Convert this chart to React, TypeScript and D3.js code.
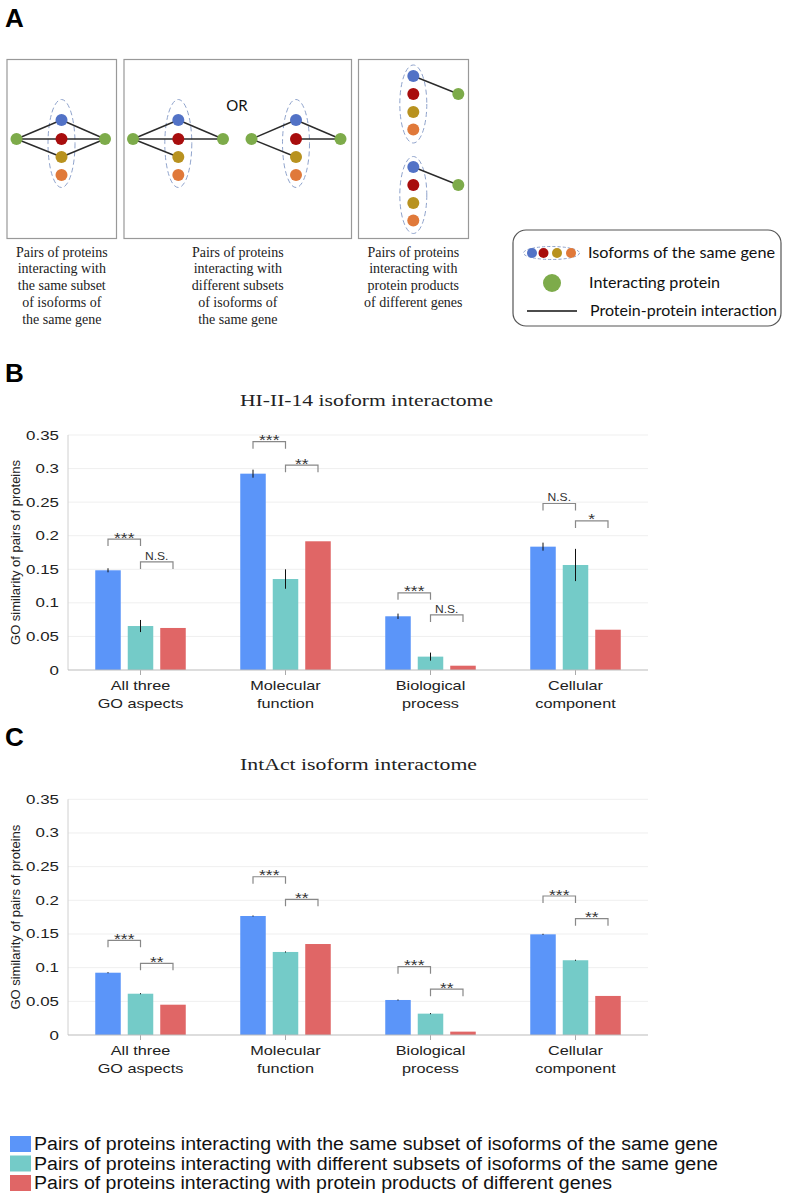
import React from "react";
import * as d3 from "d3";

// ---------- DATA ----------
const groupLabels: string[][] = [
  ["All three", "GO aspects"],
  ["Molecular", "function"],
  ["Biological", "process"],
  ["Cellular", "component"],
];
const seriesNames = [
  "Pairs of proteins interacting with the same subset of isoforms of the same gene",
  "Pairs of proteins interacting with different subsets of isoforms of the same gene",
  "Pairs of proteins interacting with protein products of different genes",
];
const seriesColors = ["#5b95f9", "#74cbc8", "#e06666"];
const yTicks = [0, 0.05, 0.1, 0.15, 0.2, 0.25, 0.3, 0.35];
const yTickLabels = ["0", "0.05", "0.1", "0.15", "0.2", "0.25", "0.3", "0.35"];

// Panel B: HI-II-14
const bSame = [0.1485, 0.2924, 0.08, 0.1837];
const bDiff = [0.0655, 0.1355, 0.0199, 0.1564];
const bGenes = [0.0626, 0.1917, 0.0064, 0.06];
const bSameErr = [0.003, 0.006, 0.004, 0.006];
const bDiffErr = [0.009, 0.0145, 0.006, 0.024];
const bGenesErr = [0, 0, 0, 0];
const bBracket1 = [0.195, 0.34, 0.115, 0.248];
const bBracket2 = [0.161, 0.305, 0.082, 0.222];
const bSig1 = ["***", "***", "***", "N.S."];
const bSig2 = ["N.S.", "**", "N.S.", "*"];

// Panel C: IntAct
const cSame = [0.0925, 0.1767, 0.052, 0.1495];
const cDiff = [0.0613, 0.1233, 0.0317, 0.111];
const cGenes = [0.045, 0.1351, 0.005, 0.058];
const cSameErr = [0.0008, 0.0008, 0.0008, 0.0008];
const cDiffErr = [0.0008, 0.0008, 0.0008, 0.0008];
const cGenesErr = [0, 0, 0, 0];
const cBracket1 = [0.1406, 0.235, 0.1015, 0.2064];
const cBracket2 = [0.1065, 0.2015, 0.068, 0.1727];
const cSig1 = ["***", "***", "***", "***"];
const cSig2 = ["**", "**", "**", "**"];

const captions: string[][] = [
  ["Pairs of proteins", "interacting with", "the same subset", "of isoforms of", "the same gene"],
  ["Pairs of proteins", "interacting with", "different subsets", "of isoforms of", "the same gene"],
  ["Pairs of proteins", "interacting with", "protein products", "of different genes"],
];
const legendA = ["Isoforms of the same gene", "Interacting protein", "Protein-protein interaction"];

const isoColors = ["#5272c6", "#a80d0d", "#b8921f", "#e0793a"];
const green = "#7dab4a";

const SANS = "'Liberation Sans', Arial, Helvetica, sans-serif";
const SERIF = "'Liberation Serif', 'Times New Roman', serif";
const CAL = "Lato, 'Open Sans', sans-serif";

// ---------- helpers ----------
function SText(props: { x: number; y: number; sx?: number; size: number; anchor?: string; fill?: string; family?: string; children: any }) {
  const { x, y, sx = 1, size, anchor = "middle", fill = "#222", family = SANS } = props;
  return (
    <text transform={`translate(${x},${y}) scale(${sx},1)`} fontSize={size} textAnchor={anchor} fill={fill} fontFamily={family}>
      {props.children}
    </text>
  );
}

type ChartProps = {
  title: string;
  titleY: number;
  titleW: number;
  top: number;
  bottom: number;
  values: number[][];
  errs: number[][];
  br1: number[];
  br2: number[];
  sig1: string[];
  sig2: string[];
};

function BarChart(p: ChartProps) {
  const left = 68, right = 648;
  const y = d3.scaleLinear().domain([0, 0.35]).range([p.bottom, p.top]);
  const x0 = d3.scaleBand<number>().domain(d3.range(groupLabels.length)).range([left, right]).padding(0);
  const x1 = d3.scaleBand<number>().domain([0, 1, 2]).range([-45.25, 45.25]).paddingInner(0.215).paddingOuter(0);
  const gc = (g: number) => (x0(g) as number) + x0.bandwidth() / 2;
  const bc = (g: number, s: number) => gc(g) + (x1(s) as number) + x1.bandwidth() / 2;
  const leg = 7;
  const sigLabel = (txt: string, xm: number, yb: number, key: string) =>
    txt === "N.S." ? (
      <SText key={key} x={xm} y={yb - 2} size={10.5} sx={1.15} fill="#333">{txt}</SText>
    ) : (
      <SText key={key} x={xm} y={yb + 3.5} size={14} sx={1.25} fill="#333">{txt}</SText>
    );
  return (
    <g>
      <text x={240} y={p.titleY} fontFamily={SERIF} fontSize={16.5} fill="#222" textLength={p.titleW} lengthAdjust="spacingAndGlyphs">
        {p.title}
      </text>
      {yTicks.map((t, i) => (
        <g key={"g" + i}>
          {i > 0 && <line x1={left} x2={right} y1={y(t)} y2={y(t)} stroke="#efefef" strokeWidth={1} />}
          <SText x={59} y={y(t) + 4.5} size={13} sx={1.3} anchor="end" fill="#222">{yTickLabels[i]}</SText>
        </g>
      ))}
      <line x1={left} x2={left} y1={p.top} y2={p.bottom} stroke="#d0d0d0" strokeWidth={1} />
      <text transform={`translate(20,${(p.top + p.bottom) / 2}) rotate(-90)`} fontFamily={SANS} fontSize={13} textAnchor="middle" fill="#222">
        GO similarity of pairs of proteins
      </text>
      {groupLabels.map((lbl, g) => (
        <g key={"grp" + g}>
          {p.values.map((vals, s) => (
            <rect key={"b" + s} x={bc(g, s) - x1.bandwidth() / 2} y={y(vals[g])} width={x1.bandwidth()} height={p.bottom - y(vals[g])} fill={seriesColors[s]} />
          ))}
          {p.errs.map((e, s) =>
            e[g] > 0 ? (
              <line key={"e" + s} x1={bc(g, s)} x2={bc(g, s)} y1={y(p.values[s][g] + e[g])} y2={y(p.values[s][g] - e[g])} stroke="#111" strokeWidth={1} />
            ) : null
          )}
          {[0, 1].map((k) => {
            const v = k === 0 ? p.br1[g] : p.br2[g];
            const xa = bc(g, k), xb = bc(g, k + 1);
            const yy = y(v);
            const lab = k === 0 ? p.sig1[g] : p.sig2[g];
            return (
              <g key={"br" + k}>
                <path d={`M${xa},${yy + leg}V${yy}H${xb}V${yy + leg}`} fill="none" stroke="#888" strokeWidth={1.2} />
                {sigLabel(lab, (xa + xb) / 2, yy, "s" + k)}
              </g>
            );
          })}
          <line x1={gc(g)} x2={gc(g)} y1={p.bottom} y2={p.bottom + 5} stroke="#aaa" />
          <SText x={gc(g)} y={p.bottom + 20} size={13} sx={1.25}>{lbl[0]}</SText>
          <SText x={gc(g)} y={p.bottom + 38} size={13} sx={1.25}>{lbl[1]}</SText>
        </g>
      ))}
      <line x1={left} x2={right} y1={p.bottom} y2={p.bottom} stroke="#bbb" strokeWidth={1.2} />
    </g>
  );
}

function Dot({ x, y, c, r = 6 }: { x: number; y: number; c: string; r?: number }) {
  return <circle cx={x} cy={y} r={r} fill={c} />;
}

function IsoColumn({ x, ecy, ry }: { x: number; ecy: number; ry: number }) {
  return <ellipse cx={x} cy={ecy} rx={13.5} ry={ry} fill="none" stroke="#8fa3cc" strokeWidth={1} strokeDasharray="5,3" />;
}

function PanelA() {
  const L = "#2b2b2b";
  const isoY1 = [120, 139, 157, 175];
  const lineProps = { stroke: L, strokeWidth: 1.4 };
  const b1 = { gl: 16.5, gr: 105, ix: 61.5, gy: 139 };
  const b2a = { gl: 133, gr: 223, ix: 178.3, gy: 139 };
  const b2b = { gl: 251.5, gr: 340.5, ix: 296, gy: 139 };
  const b3 = { ix: 413.3, gx: 458.3 };
  const top3 = [76, 94, 112, 129.5];
  const bot3 = [167, 185, 203, 220.5];
  return (
    <g>
      <text x={5} y={27} fontFamily={SANS} fontWeight="bold" fontSize={26} fill="#000">A</text>
      <rect x={7} y={59.5} width={109.5} height={179} fill="none" stroke="#999" strokeWidth={1.2} />
      <rect x={124} y={59.5} width={227.5} height={179} fill="none" stroke="#999" strokeWidth={1.2} />
      <rect x={358.5} y={59.5} width={110} height={179} fill="none" stroke="#999" strokeWidth={1.2} />
      <text x={237} y={111} fontFamily={CAL} fontSize={15} textAnchor="middle" fill="#111">OR</text>

      <IsoColumn x={b1.ix} ecy={143.5} ry={44} />
      {[0, 1, 2].map((i) => (
        <g key={"b1" + i}>
          <line x1={b1.gl} y1={b1.gy} x2={b1.ix} y2={isoY1[i]} {...lineProps} />
          <line x1={b1.gr} y1={b1.gy} x2={b1.ix} y2={isoY1[i]} {...lineProps} />
        </g>
      ))}
      {isoY1.map((yy, i) => <Dot key={"d1" + i} x={b1.ix} y={yy} c={isoColors[i]} />)}
      <Dot x={b1.gl} y={b1.gy} c={green} />
      <Dot x={b1.gr} y={b1.gy} c={green} />

      <IsoColumn x={b2a.ix} ecy={143.5} ry={44} />
      {[0, 1, 2].map((i) => (
        <line key={"b2al" + i} x1={b2a.gl} y1={b2a.gy} x2={b2a.ix} y2={isoY1[i]} {...lineProps} />
      ))}
      {[0, 1].map((i) => (
        <line key={"b2ar" + i} x1={b2a.gr} y1={b2a.gy} x2={b2a.ix} y2={isoY1[i]} {...lineProps} />
      ))}
      {isoY1.map((yy, i) => <Dot key={"d2a" + i} x={b2a.ix} y={yy} c={isoColors[i]} />)}
      <Dot x={b2a.gl} y={b2a.gy} c={green} />
      <Dot x={b2a.gr} y={b2a.gy} c={green} />

      <IsoColumn x={b2b.ix} ecy={143.5} ry={44} />
      {[0, 2].map((i) => (
        <line key={"b2bl" + i} x1={b2b.gl} y1={b2b.gy} x2={b2b.ix} y2={isoY1[i]} {...lineProps} />
      ))}
      {[0, 1].map((i) => (
        <line key={"b2br" + i} x1={b2b.gr} y1={b2b.gy} x2={b2b.ix} y2={isoY1[i]} {...lineProps} />
      ))}
      {isoY1.map((yy, i) => <Dot key={"d2b" + i} x={b2b.ix} y={yy} c={isoColors[i]} />)}
      <Dot x={b2b.gl} y={b2b.gy} c={green} />
      <Dot x={b2b.gr} y={b2b.gy} c={green} />

      <IsoColumn x={b3.ix} ecy={104} ry={39} />
      <line x1={b3.ix} y1={top3[0]} x2={b3.gx} y2={94} {...lineProps} />
      {top3.map((yy, i) => <Dot key={"d3a" + i} x={b3.ix} y={yy} c={isoColors[i]} />)}
      <Dot x={b3.gx} y={94} c={green} />
      <IsoColumn x={b3.ix} ecy={195} ry={38.5} />
      <line x1={b3.ix} y1={bot3[0]} x2={b3.gx} y2={185} {...lineProps} />
      {bot3.map((yy, i) => <Dot key={"d3b" + i} x={b3.ix} y={yy} c={isoColors[i]} />)}
      <Dot x={b3.gx} y={185} c={green} />

      {captions.map((lines, ci) =>
        lines.map((ln, li) => (
          <text key={"c" + ci + li} x={[61.8, 237.8, 413.3][ci]} y={256.5 + li * 16.9} fontFamily={SERIF} fontSize={14} textAnchor="middle" fill="#222">
            {ln}
          </text>
        ))
      )}

      <rect x={513} y={230} width={268} height={96} rx={13} ry={13} fill="none" stroke="#555" strokeWidth={1.2} />
      <ellipse cx={551.5} cy={253} rx={28} ry={6.5} fill="none" stroke="#8fa3cc" strokeWidth={1} strokeDasharray="3,2" />
      {[532, 543.5, 557, 571].map((xx, i) => <Dot key={"lg" + i} x={xx} y={253} c={isoColors[i]} r={5} />)}
      <Dot x={552} y={283} c={green} r={9} />
      <line x1={527} x2={577} y1={311} y2={311} stroke="#111" strokeWidth={1.5} />
      {legendA.map((t, i) => (
        <text key={"la" + i} x={[588, 589, 590][i]} y={[258, 288, 316][i]} fontFamily={CAL} fontSize={15} fill="#111"
          textLength={[187, 131, 187][i]} lengthAdjust="spacingAndGlyphs">
          {t}
        </text>
      ))}
    </g>
  );
}

export default function App() {
  const bottomLegendW = [684, 684, 578];
  return (
    <div style={{ position: "absolute", left: 0, top: 0, width: 788, height: 1199, background: "#fff" }}>
      <svg width={788} height={1199} style={{ display: "block" }}>
        <rect width={788} height={1199} fill="#fff" />
        <PanelA />
        <text x={5} y={382} fontFamily={SANS} fontWeight="bold" fontSize={26} fill="#000">B</text>
        <BarChart
          title="HI-II-14 isoform interactome"
          titleY={406}
          titleW={253}
          top={435}
          bottom={670}
          values={[bSame, bDiff, bGenes]}
          errs={[bSameErr, bDiffErr, bGenesErr]}
          br1={bBracket1}
          br2={bBracket2}
          sig1={bSig1}
          sig2={bSig2}
        />
        <text x={5} y={746} fontFamily={SANS} fontWeight="bold" fontSize={26} fill="#000">C</text>
        <BarChart
          title="IntAct isoform interactome"
          titleY={770}
          titleW={237}
          top={799.3}
          bottom={1035}
          values={[cSame, cDiff, cGenes]}
          errs={[cSameErr, cDiffErr, cGenesErr]}
          br1={cBracket1}
          br2={cBracket2}
          sig1={cSig1}
          sig2={cSig2}
        />
        {seriesNames.map((nm, i) => (
          <g key={"lg" + i}>
            <rect x={10} y={1136 + i * 19.5} width={21} height={16} fill={seriesColors[i]} />
            <text x={34} y={1150 + i * 19.5} fontFamily={SANS} fontSize={18} fill="#111" textLength={bottomLegendW[i]} lengthAdjust="spacingAndGlyphs">
              {nm}
            </text>
          </g>
        ))}
      </svg>
    </div>
  );
}
